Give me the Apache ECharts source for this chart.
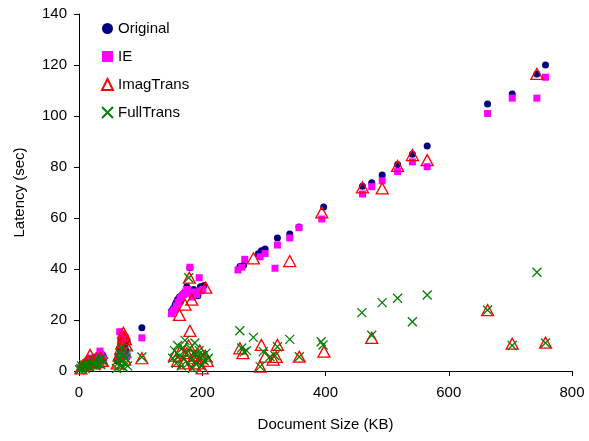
<!DOCTYPE html>
<html><head><meta charset="utf-8">
<script src="https://cdn.jsdelivr.net/npm/echarts@6/dist/echarts.min.js"></script>
<style>html,body{margin:0;padding:0;background:#fff}#c{width:589px;height:441px}</style>
</head><body><div id="c"></div>
<script>
const xTicks = [0, 200, 400, 600, 800];
const yTicks = [0, 20, 40, 60, 80, 100, 120, 140];
const seriesNames = ['Original', 'IE', 'ImagTrans', 'FullTrans'];

const original = [
 [3,1.5],[5,2],[8,2.5],[10,2],[12,3],[15,3.5],[18,4],[20,3],[22,4.5],[25,4],[28,5],[30,5],[33,5.5],[35,6],[38,6.5],
 [62,4],[64,6],[66,9],[68,12],[70,14.5],[72,13],[74,10],[76,8],[78,12],[70,7],
 [102,17],
 [150,23.5],[153,24.5],[156,26],[158,27],[160,28],[163,29],[165,27.5],[168,30],[170,30.5],[172,31],[175,33],[178,32],[180,40.5],[183,31],[186,32],[190,30],[193,29.5],[197,33],[200,32.5],[203,33.5],
 [261,41],[267,41.5],[291,46],[296,47.2],[302,47.8],[322,52.2],[342,53.7],[357,56.5],[397,64.3],
 [460,72.5],[475,73.8],[492,76.9],[517,81],[541,85],[565,88.2],[663,104.7],[703,108.6],[743,116.5],[757,120]
];
const ie = [
 [2,1],[5,1.5],[8,2],[10,3],[13,2.5],[15,4],[18,3],[20,5],[24,4],[27,5.5],[30,4.5],[34,7.8],[36,6],[40,5],
 [63,5],[66,15.4],[68,10],[70,12.5],[72,8],[75,13],[78,6],
 [102,13],
 [150,22.5],[152,23.5],[155,24],[158,25.5],[161,27],[164,28.5],[167,29],[170,30],[173,31],[176,32],[179,30.5],[180,40.7],[184,29],[188,31],[191,30],[195,36.6],[198,31.5],[201,32],
 [258,39.6],[264,40.7],[269,43.8],[294,44.8],[302,46.1],[318,40.3],[322,49.4],[342,52.2],[357,56.2],[394,59.6],
 [460,69.4],[475,72.3],[492,74.6],[517,78.2],[541,82],[565,80.1],[663,101],[703,107],[743,107],[757,115.2]
];
const imagTrans = [
 [3,1],[6,2],[9,2.5],[12,3],[15,4],[18,6.3],[21,4],[25,3],[28,5],[32,3.5],[35,5],[38,4],
 [62,3],[65,6],[68,9],[70,11],[72,15],[73,13.5],[75,12.5],[77,10],[74,4.5],
 [102,5],
 [163,22],[172,26],[179,36.6],[183,28],[205.5,32.7],[180,15.7],[155,6],[160,4],[165,8],[170,3],[175,7],[178,10],[185,5],[188,2],[190,6],[193,3],[196,8],[198,5],[200,1],[205,6],[208,4],
 [261,8.9],[266,7],[283,44.2],[294,1.7],[296,10.2],[302,5.6],[315,4.5],[320,5.5],[322,10.2],[342,43.1],[357.5,5.6],[394,62.2],[397.5,7.6],
 [460,72],[475,13],[492,71.6],[517,80.4],[541,84.7],[565,82.7],[663,23.9],[703,10.7],[743,116.5],[757,11.1]
];
const fullTrans = [
 [1,0.5],[3,1],[4,2],[6,1.5],[8,2.5],[10,1],[12,2],[14,3],[16,2],[18,1.5],[20,3],[22,2.5],[25,4],[27,2],[30,3],[32,4.5],[35,2.5],[37,5],[40,3.5],
 [61,1],[63,3],[65,5],[66,7],[68,2],[69,9],[70,4],[71,6],[72,1.5],[73,8],[75,3],[76,5],[78,7],[79,2],
 [102,5.5],
 [152,5],[155,8],[158,3],[160,10],[163,6],[166,2],[168,9],[170,5],[172,12],[175,7],[177,3],[178,36.6],[180,9],[182,4.5],[184,1],[186,7],[188,11],[190,3],[192,6],[195,8],[198,2],[200,6],[203,4],[206,7],[210,5],
 [261,15.8],[264,9],[268,7.5],[272,8],[283,13.2],[294,1.7],[299,7.6],[310,5.6],[318,6],[322,9.5],[342,12.4],[357.5,5.6],[393,11.5],[396,10.2],
 [459,22.9],[475,14],[492,26.8],[517,28.5],[541,19.3],[565,29.8],[663,23.9],[703,10],[743,38.7],[757,11]
];

const FONT = 'Liberation Sans, Arial, sans-serif';
const chart = echarts.init(document.getElementById('c'));
chart.setOption({
  animation: false,
  backgroundColor: '#fff',
  grid: {left: 79, right: 17, top: 14, bottom: 70},
  legend: {
    orient: 'vertical', left: 96, top: 16, itemGap: 13, itemWidth: 11, itemHeight: 11,
    textStyle: {fontFamily: FONT, fontSize: 15, color: '#000'},
    data: seriesNames
  },
  xAxis: {
    type: 'value', min: xTicks[0], max: xTicks[xTicks.length-1], interval: 200,
    name: 'Document Size (KB)', nameLocation: 'middle', nameGap: 46,
    nameTextStyle: {fontFamily: FONT, fontSize: 15, color: '#000'},
    axisLine: {lineStyle: {color: '#000', width: 1}},
    axisTick: {show: true, length: 5, lineStyle: {color: '#000'}},
    axisLabel: {fontFamily: FONT, fontSize: 15, color: '#000', margin: 14},
    splitLine: {show: false}
  },
  yAxis: {
    type: 'value', min: yTicks[0], max: yTicks[yTicks.length-1], interval: 20,
    name: 'Latency (sec)', nameLocation: 'middle', nameGap: 52,
    nameTextStyle: {fontFamily: FONT, fontSize: 15, color: '#000'},
    axisLine: {show: true, lineStyle: {color: '#000', width: 1}},
    axisTick: {show: true, length: 5, lineStyle: {color: '#000'}},
    axisLabel: {fontFamily: FONT, fontSize: 15, color: '#000', margin: 12},
    splitLine: {show: false}
  },
  series: [
    {name: seriesNames[0], type: 'scatter', data: original, symbol: 'circle', symbolSize: 7,
     itemStyle: {color: '#000080', opacity: 1}},
    {name: seriesNames[1], type: 'scatter', data: ie, symbol: 'rect', symbolSize: 7,
     itemStyle: {color: '#ff00ff', opacity: 1}},
    {name: seriesNames[2], type: 'scatter', data: imagTrans, symbol: 'triangle', symbolSize: [12, 11],
     itemStyle: {color: 'rgba(255,255,255,0)', borderColor: '#ff0000', borderWidth: 1.3, opacity: 1}},
    {name: seriesNames[3], type: 'scatter', data: fullTrans, symbol: 'path://M0,0L10,10M10,0L0,10', symbolSize: 9,
     itemStyle: {color: 'rgba(255,255,255,0)', borderColor: '#008000', borderWidth: 1.3, opacity: 1}}
  ]
});
</script></body></html>
